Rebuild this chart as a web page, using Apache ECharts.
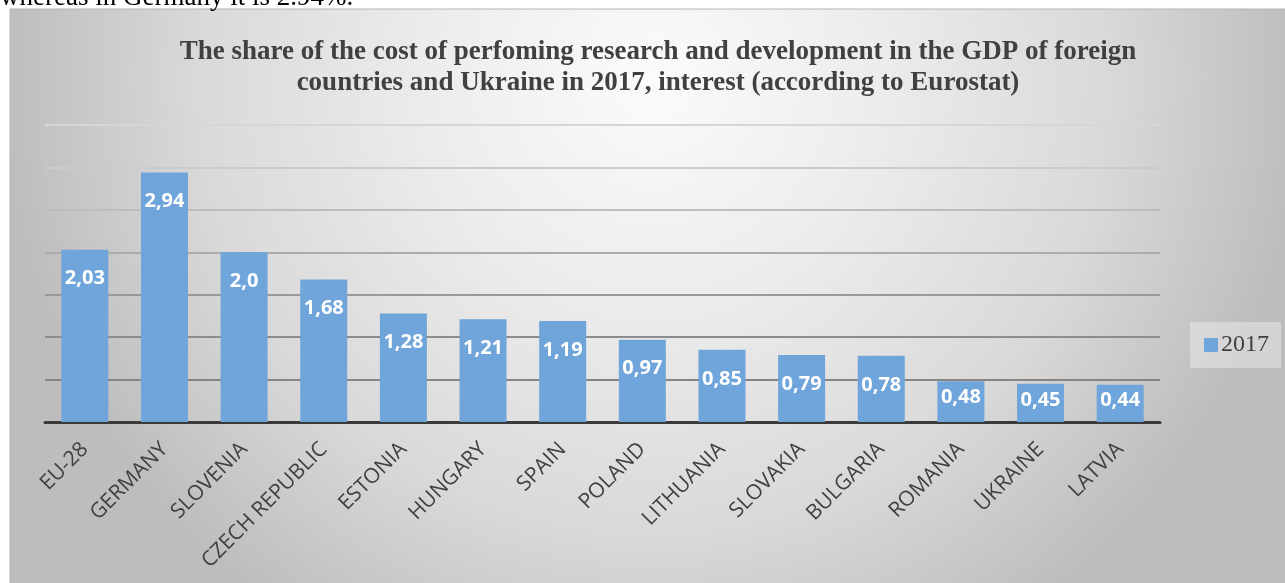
<!DOCTYPE html>
<html>
<head>
<meta charset="utf-8">
<script src="https://cdn.jsdelivr.net/npm/echarts@6/dist/echarts.min.js"></script>
<style>html,body{margin:0;padding:0;background:#fff;}#c{width:1285px;height:583px;}</style>
</head>
<body>
<div id="c"></div>
<script>
const categories = ['EU-28','GERMANY','SLOVENIA','CZECH REPUBLIC','ESTONIA','HUNGARY','SPAIN','POLAND','LITHUANIA','SLOVAKIA','BULGARIA','ROMANIA','UKRAINE','LATVIA'];
const values2017 = [2.03, 2.94, 2.0, 1.68, 1.28, 1.21, 1.19, 0.97, 0.85, 0.79, 0.78, 0.48, 0.45, 0.44];
const valueLabels = ['2,03','2,94','2,0','1,68','1,28','1,21','1,19','0,97','0,85','0,79','0,78','0,48','0,45','0,44'];
const seriesName = '2017';
const titleText = 'The share of the cost of perfoming research and development in the GDP of foreign\ncountries and Ukraine in 2017, interest (according to Eurostat)';
const introText = 'whereas in Germany it is 2.94%.';

const chart = echarts.init(document.getElementById('c'));
const barData = values2017.map(v => v < 0.6 ? { value: v, label: { distance: 6 } } : v);

chart.setOption({
  backgroundColor: '#ffffff',
  animation: false,
  graphic: [
    {
      type: 'rect', z: -10, silent: true,
      shape: { x: 10, y: 9, width: 1285, height: 580 },
      style: {
        fill: {
          type: 'radial', x: 0.5, y: 0.12, r: 1.12,
          colorStops: [
            { offset: 0, color: '#fbfbfb' },
            { offset: 0.35, color: '#ececec' },
            { offset: 0.7, color: '#d9d9d9' },
            { offset: 1, color: '#bdbdbd' }
          ]
        },
        stroke: '#b4b4b4', lineWidth: 1
      }
    },
    {
      type: 'text', z: 10, silent: true,
      style: {
        text: introText, x: 0, y: -2,
        font: '27px "Liberation Serif"', fill: '#000',
        verticalAlign: 'middle'
      }
    }
  ],
  title: {
    text: titleText,
    left: 658, top: 37,
    textAlign: 'center',
    padding: 0,
    textStyle: {
      fontFamily: 'Liberation Serif', fontWeight: 'bold',
      fontSize: 27, lineHeight: 31, color: '#404040'
    }
  },
  legend: {
    data: [seriesName],
    left: 1190, top: 322,
    orient: 'vertical',
    padding: [11, 12, 11, 14],
    backgroundColor: 'rgba(255,255,255,0.35)',
    itemWidth: 14, itemHeight: 14, itemGap: 5,
    icon: 'rect',
    textStyle: { fontFamily: 'Liberation Serif', fontSize: 24, color: '#404040', padding: [0, 0, 0, -2] }
  },
  grid: { left: 45, right: 125, top: 125, bottom: 161, containLabel: false },
  xAxis: {
    type: 'category',
    data: categories,
    axisTick: { show: false },
    axisLine: { lineStyle: { color: '#3a3a3a', width: 3 } },
    axisLabel: {
      rotate: 45, interval: 0, margin: 24,
      fontFamily: 'Open Sans', fontSize: 21, color: '#404040'
    }
  },
  yAxis: {
    type: 'value', min: 0, max: 3.5, interval: 0.5,
    axisLabel: { show: false },
    axisLine: { show: false },
    axisTick: { show: false },
    splitLine: {
      lineStyle: {
        width: 2,
        color: ['#7a7a7a', '#858585', '#8c8c8c', '#999999', '#acacac', '#bdbdbd', '#cbcbcb', '#d6d6d6']
      }
    }
  },
  series: [{
    name: seriesName,
    type: 'bar',
    data: barData,
    barWidth: 47,
    itemStyle: { color: '#6fa5da' },
    label: {
      show: true, position: 'insideTop', distance: 19,
      fontFamily: 'Open Sans', fontWeight: 'bold', fontSize: 20, lineHeight: 20,
      color: '#ffffff',
      formatter: p => valueLabels[p.dataIndex]
    }
  }]
});
</script>
</body>
</html>
